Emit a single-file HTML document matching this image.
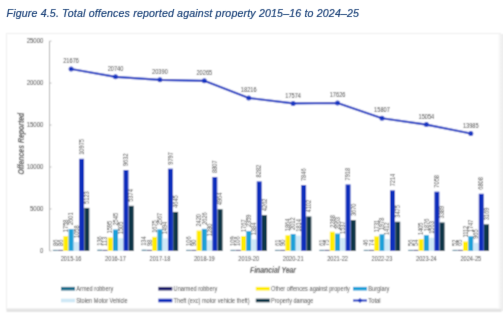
<!DOCTYPE html>
<html><head><meta charset="utf-8">
<style>
html,body{margin:0;padding:0;background:#fff;width:503px;height:317px;overflow:hidden;}
svg{position:absolute;left:0;top:0;font-family:"Liberation Sans",sans-serif;}
</style></head><body>
<svg width="503" height="317" viewBox="0 0 503 317">
<defs><filter id="bl" x="0" y="0" width="503" height="317" filterUnits="userSpaceOnUse"><feConvolveMatrix order="3" kernelMatrix="1 2 1 2 6 2 1 2 1" divisor="18" edgeMode="duplicate"/></filter><filter id="bl2" x="0" y="0" width="503" height="317" filterUnits="userSpaceOnUse"><feConvolveMatrix order="3" kernelMatrix="0 1 0 1 16 1 0 1 0" divisor="20" edgeMode="duplicate"/></filter></defs>
<g filter="url(#bl)">
<rect x="0" y="0" width="503" height="317" fill="#fff"/>
<defs><linearGradient id="rg" x1="0" x2="1" y1="0" y2="0"><stop offset="0" stop-color="#ffffff"/><stop offset="0.6" stop-color="#f2f2f2"/><stop offset="1" stop-color="#eeeeee"/></linearGradient></defs>
<rect x="6.5" y="33.5" width="494" height="275.5" fill="#fff" stroke="#efefef" stroke-width="1"/>
<rect x="497.5" y="34" width="5.5" height="277" fill="url(#rg)"/>
<rect x="6.5" y="308.8" width="495" height="3.2" fill="#e4e4e4"/>
<line x1="49.5" y1="41.10" x2="49.5" y2="250.90" stroke="#b0b0b0" stroke-width="1"/>
<line x1="49.5" y1="250.90" x2="51.5" y2="250.90" stroke="#b0b0b0" stroke-width="0.8"/>
<text transform="translate(43.40 253.10) scale(0.960 1)" font-size="6.30" fill="#383838" text-anchor="end">0</text>
<line x1="49.5" y1="208.94" x2="51.5" y2="208.94" stroke="#b0b0b0" stroke-width="0.8"/>
<text transform="translate(43.40 211.14) scale(0.960 1)" font-size="6.30" fill="#383838" text-anchor="end">5000</text>
<line x1="49.5" y1="166.98" x2="51.5" y2="166.98" stroke="#b0b0b0" stroke-width="0.8"/>
<text transform="translate(43.40 169.18) scale(0.960 1)" font-size="6.30" fill="#383838" text-anchor="end">10000</text>
<line x1="49.5" y1="125.02" x2="51.5" y2="125.02" stroke="#b0b0b0" stroke-width="0.8"/>
<text transform="translate(43.40 127.22) scale(0.960 1)" font-size="6.30" fill="#383838" text-anchor="end">15000</text>
<line x1="49.5" y1="83.06" x2="51.5" y2="83.06" stroke="#b0b0b0" stroke-width="0.8"/>
<text transform="translate(43.40 85.26) scale(0.960 1)" font-size="6.30" fill="#383838" text-anchor="end">20000</text>
<line x1="49.5" y1="41.10" x2="51.5" y2="41.10" stroke="#b0b0b0" stroke-width="0.8"/>
<text transform="translate(43.40 43.30) scale(0.960 1)" font-size="6.30" fill="#383838" text-anchor="end">25000</text>
<rect x="52.87" y="249.90" width="4.95" height="1.00" fill="#1F6E8C"/>
<text transform="translate(57.55 245.90) rotate(-90) scale(0.900 1)" font-size="6.30" fill="#383838">86</text>
<rect x="58.12" y="249.90" width="4.95" height="1.00" fill="#1B1B6B"/>
<text transform="translate(62.80 245.90) rotate(-90) scale(0.900 1)" font-size="6.30" fill="#383838">86</text>
<rect x="63.37" y="236.15" width="4.95" height="14.75" fill="#FFEC00"/>
<text transform="translate(68.05 232.15) rotate(-90) scale(0.900 1)" font-size="6.30" fill="#383838">1758</text>
<rect x="68.62" y="229.07" width="4.95" height="21.83" fill="#1BA0D8"/>
<text transform="translate(73.30 225.07) rotate(-90) scale(0.900 1)" font-size="6.30" fill="#383838">2601</text>
<rect x="73.88" y="242.02" width="4.95" height="8.88" fill="#CFE8F6"/>
<text transform="translate(78.55 238.02) rotate(-90) scale(0.900 1)" font-size="6.30" fill="#383838">1058</text>
<rect x="79.12" y="158.80" width="4.95" height="92.10" fill="#0B2EBC"/>
<text transform="translate(83.80 154.80) rotate(-90) scale(0.900 1)" font-size="6.30" fill="#383838">10975</text>
<rect x="84.38" y="207.91" width="4.95" height="42.99" fill="#0F3547"/>
<text transform="translate(89.05 203.91) rotate(-90) scale(0.900 1)" font-size="6.30" fill="#383838">5123</text>
<text transform="translate(71.10 260.90) scale(0.900 1)" font-size="6.30" fill="#383838" text-anchor="middle">2015-16</text>
<rect x="97.28" y="249.76" width="4.95" height="1.14" fill="#1F6E8C"/>
<text transform="translate(101.96 245.76) rotate(-90) scale(0.900 1)" font-size="6.30" fill="#383838">136</text>
<rect x="102.53" y="249.90" width="4.95" height="1.00" fill="#1B1B6B"/>
<text transform="translate(107.21 245.90) rotate(-90) scale(0.900 1)" font-size="6.30" fill="#383838">113</text>
<rect x="107.78" y="237.51" width="4.95" height="13.39" fill="#FFEC00"/>
<text transform="translate(112.46 233.51) rotate(-90) scale(0.900 1)" font-size="6.30" fill="#383838">1595</text>
<rect x="113.03" y="229.54" width="4.95" height="21.36" fill="#1BA0D8"/>
<text transform="translate(117.71 225.54) rotate(-90) scale(0.900 1)" font-size="6.30" fill="#383838">2545</text>
<rect x="118.28" y="238.27" width="4.95" height="12.63" fill="#CFE8F6"/>
<text transform="translate(122.96 234.27) rotate(-90) scale(0.900 1)" font-size="6.30" fill="#383838">1505</text>
<rect x="123.53" y="170.07" width="4.95" height="80.83" fill="#0B2EBC"/>
<text transform="translate(128.21 166.07) rotate(-90) scale(0.900 1)" font-size="6.30" fill="#383838">9632</text>
<rect x="128.78" y="205.80" width="4.95" height="45.10" fill="#0F3547"/>
<text transform="translate(133.46 201.80) rotate(-90) scale(0.900 1)" font-size="6.30" fill="#383838">5374</text>
<text transform="translate(115.51 260.90) scale(0.900 1)" font-size="6.30" fill="#383838" text-anchor="middle">2016-17</text>
<rect x="141.69" y="249.78" width="4.95" height="1.12" fill="#1F6E8C"/>
<text transform="translate(146.37 245.78) rotate(-90) scale(0.900 1)" font-size="6.30" fill="#383838">134</text>
<rect x="146.94" y="249.90" width="4.95" height="1.00" fill="#1B1B6B"/>
<text transform="translate(151.62 245.90) rotate(-90) scale(0.900 1)" font-size="6.30" fill="#383838">98</text>
<rect x="152.19" y="236.84" width="4.95" height="14.06" fill="#FFEC00"/>
<text transform="translate(156.87 232.84) rotate(-90) scale(0.900 1)" font-size="6.30" fill="#383838">1675</text>
<rect x="157.44" y="229.36" width="4.95" height="21.54" fill="#1BA0D8"/>
<text transform="translate(162.12 225.36) rotate(-90) scale(0.900 1)" font-size="6.30" fill="#383838">2567</text>
<rect x="162.69" y="238.36" width="4.95" height="12.54" fill="#CFE8F6"/>
<text transform="translate(167.37 234.36) rotate(-90) scale(0.900 1)" font-size="6.30" fill="#383838">1494</text>
<rect x="167.94" y="168.68" width="4.95" height="82.22" fill="#0B2EBC"/>
<text transform="translate(172.62 164.68) rotate(-90) scale(0.900 1)" font-size="6.30" fill="#383838">9797</text>
<rect x="173.19" y="211.92" width="4.95" height="38.98" fill="#0F3547"/>
<text transform="translate(177.87 207.92) rotate(-90) scale(0.900 1)" font-size="6.30" fill="#383838">4645</text>
<text transform="translate(159.92 260.90) scale(0.900 1)" font-size="6.30" fill="#383838" text-anchor="middle">2017-18</text>
<rect x="186.10" y="249.90" width="4.95" height="1.00" fill="#1F6E8C"/>
<text transform="translate(190.78 245.90) rotate(-90) scale(0.900 1)" font-size="6.30" fill="#383838">106</text>
<rect x="191.35" y="249.90" width="4.95" height="1.00" fill="#1B1B6B"/>
<text transform="translate(196.03 245.90) rotate(-90) scale(0.900 1)" font-size="6.30" fill="#383838">90</text>
<rect x="196.60" y="230.59" width="4.95" height="20.31" fill="#FFEC00"/>
<text transform="translate(201.28 226.59) rotate(-90) scale(0.900 1)" font-size="6.30" fill="#383838">2420</text>
<rect x="201.85" y="228.86" width="4.95" height="22.04" fill="#1BA0D8"/>
<text transform="translate(206.53 224.86) rotate(-90) scale(0.900 1)" font-size="6.30" fill="#383838">2626</text>
<rect x="207.10" y="240.16" width="4.95" height="10.74" fill="#CFE8F6"/>
<text transform="translate(211.78 236.16) rotate(-90) scale(0.900 1)" font-size="6.30" fill="#383838">1280</text>
<rect x="212.35" y="176.99" width="4.95" height="73.91" fill="#0B2EBC"/>
<text transform="translate(217.03 172.99) rotate(-90) scale(0.900 1)" font-size="6.30" fill="#383838">8807</text>
<rect x="217.60" y="209.24" width="4.95" height="41.66" fill="#0F3547"/>
<text transform="translate(222.28 205.24) rotate(-90) scale(0.900 1)" font-size="6.30" fill="#383838">4964</text>
<text transform="translate(204.33 260.90) scale(0.900 1)" font-size="6.30" fill="#383838" text-anchor="middle">2018-19</text>
<rect x="230.51" y="249.90" width="4.95" height="1.00" fill="#1F6E8C"/>
<text transform="translate(235.19 245.90) rotate(-90) scale(0.900 1)" font-size="6.30" fill="#383838">109</text>
<rect x="235.76" y="249.90" width="4.95" height="1.00" fill="#1B1B6B"/>
<text transform="translate(240.44 245.90) rotate(-90) scale(0.900 1)" font-size="6.30" fill="#383838">106</text>
<rect x="241.01" y="236.07" width="4.95" height="14.83" fill="#FFEC00"/>
<text transform="translate(245.69 232.07) rotate(-90) scale(0.900 1)" font-size="6.30" fill="#383838">1767</text>
<rect x="246.26" y="231.10" width="4.95" height="19.80" fill="#1BA0D8"/>
<text transform="translate(250.94 227.10) rotate(-90) scale(0.900 1)" font-size="6.30" fill="#383838">2359</text>
<rect x="251.51" y="239.29" width="4.95" height="11.61" fill="#CFE8F6"/>
<text transform="translate(256.19 235.29) rotate(-90) scale(0.900 1)" font-size="6.30" fill="#383838">1384</text>
<rect x="256.76" y="181.40" width="4.95" height="69.50" fill="#0B2EBC"/>
<text transform="translate(261.44 177.40) rotate(-90) scale(0.900 1)" font-size="6.30" fill="#383838">8282</text>
<rect x="262.01" y="215.13" width="4.95" height="35.77" fill="#0F3547"/>
<text transform="translate(266.69 211.13) rotate(-90) scale(0.900 1)" font-size="6.30" fill="#383838">4262</text>
<text transform="translate(248.74 260.90) scale(0.900 1)" font-size="6.30" fill="#383838" text-anchor="middle">2019-20</text>
<rect x="274.92" y="249.90" width="4.95" height="1.00" fill="#1F6E8C"/>
<text transform="translate(279.60 245.90) rotate(-90) scale(0.900 1)" font-size="6.30" fill="#383838">61</text>
<rect x="280.17" y="249.90" width="4.95" height="1.00" fill="#1B1B6B"/>
<text transform="translate(284.85 245.90) rotate(-90) scale(0.900 1)" font-size="6.30" fill="#383838">90</text>
<rect x="285.42" y="235.26" width="4.95" height="15.64" fill="#FFEC00"/>
<text transform="translate(290.10 231.26) rotate(-90) scale(0.900 1)" font-size="6.30" fill="#383838">1864</text>
<rect x="290.67" y="234.02" width="4.95" height="16.88" fill="#1BA0D8"/>
<text transform="translate(295.35 230.02) rotate(-90) scale(0.900 1)" font-size="6.30" fill="#383838">2012</text>
<rect x="295.92" y="235.68" width="4.95" height="15.22" fill="#CFE8F6"/>
<text transform="translate(300.60 231.68) rotate(-90) scale(0.900 1)" font-size="6.30" fill="#383838">1814</text>
<rect x="301.17" y="185.06" width="4.95" height="65.84" fill="#0B2EBC"/>
<text transform="translate(305.85 181.06) rotate(-90) scale(0.900 1)" font-size="6.30" fill="#383838">7846</text>
<rect x="306.42" y="216.48" width="4.95" height="34.42" fill="#0F3547"/>
<text transform="translate(311.10 212.48) rotate(-90) scale(0.900 1)" font-size="6.30" fill="#383838">4102</text>
<text transform="translate(293.15 260.90) scale(0.900 1)" font-size="6.30" fill="#383838" text-anchor="middle">2020-21</text>
<rect x="319.33" y="249.90" width="4.95" height="1.00" fill="#1F6E8C"/>
<text transform="translate(324.01 245.90) rotate(-90) scale(0.900 1)" font-size="6.30" fill="#383838">61</text>
<rect x="324.58" y="249.90" width="4.95" height="1.00" fill="#1B1B6B"/>
<text transform="translate(329.26 245.90) rotate(-90) scale(0.900 1)" font-size="6.30" fill="#383838">75</text>
<rect x="329.83" y="231.70" width="4.95" height="19.20" fill="#FFEC00"/>
<text transform="translate(334.51 227.70) rotate(-90) scale(0.900 1)" font-size="6.30" fill="#383838">2288</text>
<rect x="335.08" y="233.59" width="4.95" height="17.31" fill="#1BA0D8"/>
<text transform="translate(339.76 229.59) rotate(-90) scale(0.900 1)" font-size="6.30" fill="#383838">2063</text>
<rect x="340.33" y="238.00" width="4.95" height="12.90" fill="#CFE8F6"/>
<text transform="translate(345.01 234.00) rotate(-90) scale(0.900 1)" font-size="6.30" fill="#383838">1537</text>
<rect x="345.58" y="184.45" width="4.95" height="66.45" fill="#0B2EBC"/>
<text transform="translate(350.26 180.45) rotate(-90) scale(0.900 1)" font-size="6.30" fill="#383838">7918</text>
<rect x="350.83" y="220.10" width="4.95" height="30.80" fill="#0F3547"/>
<text transform="translate(355.51 216.10) rotate(-90) scale(0.900 1)" font-size="6.30" fill="#383838">3670</text>
<text transform="translate(337.56 260.90) scale(0.900 1)" font-size="6.30" fill="#383838" text-anchor="middle">2021-22</text>
<rect x="363.75" y="249.90" width="4.95" height="1.00" fill="#1F6E8C"/>
<text transform="translate(368.42 245.90) rotate(-90) scale(0.900 1)" font-size="6.30" fill="#383838">46</text>
<rect x="369.00" y="249.90" width="4.95" height="1.00" fill="#1B1B6B"/>
<text transform="translate(373.67 245.90) rotate(-90) scale(0.900 1)" font-size="6.30" fill="#383838">74</text>
<rect x="374.25" y="236.37" width="4.95" height="14.53" fill="#FFEC00"/>
<text transform="translate(378.92 232.37) rotate(-90) scale(0.900 1)" font-size="6.30" fill="#383838">1731</text>
<rect x="379.50" y="234.30" width="4.95" height="16.60" fill="#1BA0D8"/>
<text transform="translate(384.17 230.30) rotate(-90) scale(0.900 1)" font-size="6.30" fill="#383838">1978</text>
<rect x="384.75" y="239.05" width="4.95" height="11.85" fill="#CFE8F6"/>
<text transform="translate(389.42 235.05) rotate(-90) scale(0.900 1)" font-size="6.30" fill="#383838">1412</text>
<rect x="390.00" y="190.36" width="4.95" height="60.54" fill="#0B2EBC"/>
<text transform="translate(394.67 186.36) rotate(-90) scale(0.900 1)" font-size="6.30" fill="#383838">7214</text>
<rect x="395.25" y="221.74" width="4.95" height="29.16" fill="#0F3547"/>
<text transform="translate(399.92 217.74) rotate(-90) scale(0.900 1)" font-size="6.30" fill="#383838">3475</text>
<text transform="translate(381.97 260.90) scale(0.900 1)" font-size="6.30" fill="#383838" text-anchor="middle">2022-23</text>
<rect x="408.15" y="249.90" width="4.95" height="1.00" fill="#1F6E8C"/>
<text transform="translate(412.83 245.90) rotate(-90) scale(0.900 1)" font-size="6.30" fill="#383838">56</text>
<rect x="413.40" y="249.90" width="4.95" height="1.00" fill="#1B1B6B"/>
<text transform="translate(418.08 245.90) rotate(-90) scale(0.900 1)" font-size="6.30" fill="#383838">54</text>
<rect x="418.65" y="239.11" width="4.95" height="11.79" fill="#FFEC00"/>
<text transform="translate(423.33 235.11) rotate(-90) scale(0.900 1)" font-size="6.30" fill="#383838">1405</text>
<rect x="423.90" y="235.16" width="4.95" height="15.74" fill="#1BA0D8"/>
<text transform="translate(428.58 231.16) rotate(-90) scale(0.900 1)" font-size="6.30" fill="#383838">1876</text>
<rect x="429.15" y="237.78" width="4.95" height="13.12" fill="#CFE8F6"/>
<text transform="translate(433.83 233.78) rotate(-90) scale(0.900 1)" font-size="6.30" fill="#383838">1563</text>
<rect x="434.40" y="191.67" width="4.95" height="59.23" fill="#0B2EBC"/>
<text transform="translate(439.08 187.67) rotate(-90) scale(0.900 1)" font-size="6.30" fill="#383838">7058</text>
<rect x="439.65" y="222.46" width="4.95" height="28.44" fill="#0F3547"/>
<text transform="translate(444.33 218.46) rotate(-90) scale(0.900 1)" font-size="6.30" fill="#383838">3389</text>
<text transform="translate(426.38 260.90) scale(0.900 1)" font-size="6.30" fill="#383838" text-anchor="middle">2023-24</text>
<rect x="452.56" y="249.90" width="4.95" height="1.00" fill="#1F6E8C"/>
<text transform="translate(457.24 245.90) rotate(-90) scale(0.900 1)" font-size="6.30" fill="#383838">52</text>
<rect x="457.81" y="249.90" width="4.95" height="1.00" fill="#1B1B6B"/>
<text transform="translate(462.49 245.90) rotate(-90) scale(0.900 1)" font-size="6.30" fill="#383838">65</text>
<rect x="463.06" y="241.57" width="4.95" height="9.33" fill="#FFEC00"/>
<text transform="translate(467.74 237.57) rotate(-90) scale(0.900 1)" font-size="6.30" fill="#383838">1112</text>
<rect x="468.31" y="236.24" width="4.95" height="14.66" fill="#1BA0D8"/>
<text transform="translate(472.99 232.24) rotate(-90) scale(0.900 1)" font-size="6.30" fill="#383838">1747</text>
<rect x="473.56" y="242.80" width="4.95" height="8.10" fill="#CFE8F6"/>
<text transform="translate(478.24 238.80) rotate(-90) scale(0.900 1)" font-size="6.30" fill="#383838">965</text>
<rect x="478.81" y="193.77" width="4.95" height="57.13" fill="#0B2EBC"/>
<text transform="translate(483.49 189.77) rotate(-90) scale(0.900 1)" font-size="6.30" fill="#383838">6808</text>
<rect x="484.06" y="224.31" width="4.95" height="26.59" fill="#0F3547"/>
<text transform="translate(488.74 220.31) rotate(-90) scale(0.900 1)" font-size="6.30" fill="#383838">3169</text>
<text transform="translate(470.79 260.90) scale(0.900 1)" font-size="6.30" fill="#383838" text-anchor="middle">2024-25</text>
<polyline points="71.10,69.00 115.51,76.85 159.92,79.79 204.33,80.84 248.74,98.03 293.15,103.42 337.56,102.98 381.97,118.25 426.38,124.57 470.79,133.54" fill="none" stroke="#1837C2" stroke-width="2.2" stroke-linejoin="round"/>
<circle cx="71.10" cy="69.00" r="2.5" fill="#1837C2"/>
<text transform="translate(71.10 63.10) scale(0.900 1)" font-size="6.30" fill="#383838" text-anchor="middle">21676</text>
<circle cx="115.51" cy="76.85" r="2.5" fill="#1837C2"/>
<text transform="translate(115.51 70.95) scale(0.900 1)" font-size="6.30" fill="#383838" text-anchor="middle">20740</text>
<circle cx="159.92" cy="79.79" r="2.5" fill="#1837C2"/>
<text transform="translate(159.92 73.89) scale(0.900 1)" font-size="6.30" fill="#383838" text-anchor="middle">20390</text>
<circle cx="204.33" cy="80.84" r="2.5" fill="#1837C2"/>
<text transform="translate(204.33 74.94) scale(0.900 1)" font-size="6.30" fill="#383838" text-anchor="middle">20265</text>
<circle cx="248.74" cy="98.03" r="2.5" fill="#1837C2"/>
<text transform="translate(248.74 92.13) scale(0.900 1)" font-size="6.30" fill="#383838" text-anchor="middle">18216</text>
<circle cx="293.15" cy="103.42" r="2.5" fill="#1837C2"/>
<text transform="translate(293.15 97.52) scale(0.900 1)" font-size="6.30" fill="#383838" text-anchor="middle">17574</text>
<circle cx="337.56" cy="102.98" r="2.5" fill="#1837C2"/>
<text transform="translate(337.56 97.08) scale(0.900 1)" font-size="6.30" fill="#383838" text-anchor="middle">17626</text>
<circle cx="381.97" cy="118.25" r="2.5" fill="#1837C2"/>
<text transform="translate(381.97 112.35) scale(0.900 1)" font-size="6.30" fill="#383838" text-anchor="middle">15807</text>
<circle cx="426.38" cy="124.57" r="2.5" fill="#1837C2"/>
<text transform="translate(426.38 118.67) scale(0.900 1)" font-size="6.30" fill="#383838" text-anchor="middle">15054</text>
<circle cx="470.79" cy="133.54" r="2.5" fill="#1837C2"/>
<text transform="translate(470.79 127.64) scale(0.900 1)" font-size="6.30" fill="#383838" text-anchor="middle">13985</text>
<text x="250" y="272.7" textLength="46" lengthAdjust="spacingAndGlyphs" font-size="8.2" font-weight="bold" font-style="italic" fill="#404040">Financial Year</text>
<text transform="translate(23.7 174.4) rotate(-90)" textLength="61.7" lengthAdjust="spacingAndGlyphs" font-size="8.2" font-weight="bold" font-style="italic" fill="#404040">Offences Reported</text>
<rect x="61.00" y="286.90" width="14" height="3.6" fill="#1F6E8C"/>
<text x="76.30" y="291.10" textLength="36.90" lengthAdjust="spacingAndGlyphs" font-size="6.3" fill="#444444">Armed robbery</text>
<rect x="158.30" y="286.90" width="14" height="3.6" fill="#1B1B6B"/>
<text x="173.60" y="291.10" textLength="43.70" lengthAdjust="spacingAndGlyphs" font-size="6.3" fill="#444444">Unarmed robbery</text>
<rect x="255.80" y="286.90" width="14" height="3.6" fill="#FFEC00"/>
<text x="271.10" y="291.10" textLength="78.80" lengthAdjust="spacingAndGlyphs" font-size="6.3" fill="#444444">Other offences against property</text>
<rect x="353.00" y="286.90" width="14" height="3.6" fill="#1BA0D8"/>
<text x="368.30" y="291.10" textLength="21.10" lengthAdjust="spacingAndGlyphs" font-size="6.3" fill="#444444">Burglary</text>
<rect x="61.00" y="298.70" width="14" height="3.6" fill="#CFE8F6"/>
<text x="76.30" y="302.90" textLength="51.40" lengthAdjust="spacingAndGlyphs" font-size="6.3" fill="#444444">Stolen Motor Vehicle</text>
<rect x="158.30" y="298.70" width="14" height="3.6" fill="#0B2EBC"/>
<text x="173.60" y="302.90" textLength="75.90" lengthAdjust="spacingAndGlyphs" font-size="6.3" fill="#444444">Theft (exc) motor vehicle theft)</text>
<rect x="255.80" y="298.70" width="14" height="3.6" fill="#0F3547"/>
<text x="271.10" y="302.90" textLength="42.20" lengthAdjust="spacingAndGlyphs" font-size="6.3" fill="#444444">Property damage</text>
<line x1="353.00" y1="300.50" x2="367.00" y2="300.50" stroke="#1837C2" stroke-width="2"/>
<path d="M357.40 300.50l2.6 -2.6l2.6 2.6l-2.6 2.6z" fill="#1837C2"/>
<text x="368.30" y="302.90" textLength="12.20" lengthAdjust="spacingAndGlyphs" font-size="6.3" fill="#444444">Total</text>
</g>
<g filter="url(#bl2)"><text x="6.5" y="16.5" font-size="10.6" font-style="italic" fill="#1B4279" stroke="#1B4279" stroke-width="0.2" style="letter-spacing:0.17px">Figure 4.5. Total offences reported against property 2015&#8211;16 to 2024&#8211;25</text></g>
</svg>
</body></html>
